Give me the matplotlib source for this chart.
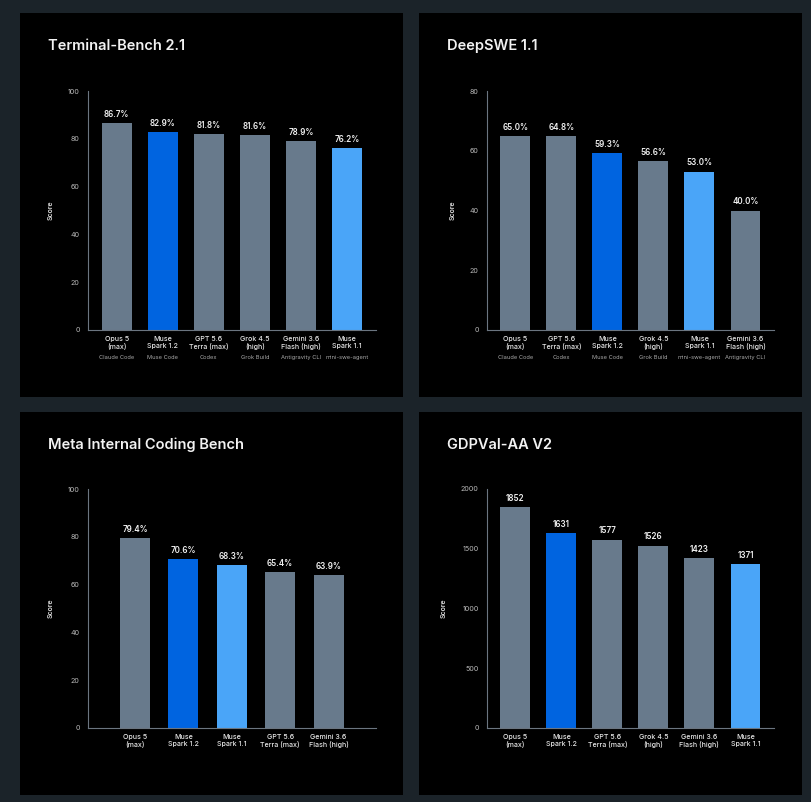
import matplotlib.pyplot as plt
from matplotlib.patches import Rectangle
from matplotlib.transforms import blended_transform_factory

plt.rcParams["font.family"] = ["Inter", "DejaVu Sans"]

GRAY = "#687a8c"
BLUE = "#0064e0"
LIGHT = "#4aa5f8"

# Terminal-Bench 2.1
tb_models = ["Opus 5\n(max)", "Muse\nSpark 1.2", "GPT 5.6\nTerra (max)",
             "Grok 4.5\n(high)", "Gemini 3.6\nFlash (high)", "Muse\nSpark 1.1"]
tb_harness = ["Claude Code", "Muse Code", "Codex", "Grok Build",
              "Antigravity CLI", "mini-swe-agent"]
tb_scores = [86.7, 82.9, 81.8, 81.6, 78.9, 76.2]
tb_colors = [GRAY, BLUE, GRAY, GRAY, GRAY, LIGHT]

# DeepSWE 1.1
ds_models = ["Opus 5\n(max)", "GPT 5.6\nTerra (max)", "Muse\nSpark 1.2",
             "Grok 4.5\n(high)", "Muse\nSpark 1.1", "Gemini 3.6\nFlash (high)"]
ds_harness = ["Claude Code", "Codex", "Muse Code", "Grok Build",
              "mini-swe-agent", "Antigravity CLI"]
ds_scores = [65.0, 64.8, 59.3, 56.6, 53.0, 40.0]
ds_colors = [GRAY, GRAY, BLUE, GRAY, LIGHT, GRAY]

# Meta Internal Coding Bench
mi_models = ["Opus 5\n(max)", "Muse\nSpark 1.2", "Muse\nSpark 1.1",
             "GPT 5.6\nTerra (max)", "Gemini 3.6\nFlash (high)"]
mi_scores = [79.4, 70.6, 68.3, 65.4, 63.9]
mi_colors = [GRAY, BLUE, LIGHT, GRAY, GRAY]

# GDPVal-AA V2
gd_models = ["Opus 5\n(max)", "Muse\nSpark 1.2", "GPT 5.6\nTerra (max)",
             "Grok 4.5\n(high)", "Gemini 3.6\nFlash (high)", "Muse\nSpark 1.1"]
gd_scores = [1852, 1631, 1577, 1526, 1423, 1371]
gd_colors = [GRAY, BLUE, GRAY, GRAY, GRAY, LIGHT]

W, H = 812, 802
fig = plt.figure(figsize=(W / 100, H / 100), dpi=100, facecolor="#1b2329")


def px_rect(x0, y0, x1, y1):
    # pixel box (top-left origin) -> figure fraction [l, b, w, h]
    return [x0 / W, 1 - y1 / H, (x1 - x0) / W, (y1 - y0) / H]


panels = [(20, 13, 403, 397), (419, 13, 802, 397),
          (20, 412, 403, 795), (419, 412, 802, 795)]
for p in panels:
    l, b, w, h = px_rect(*p)
    fig.patches.append(Rectangle((l, b), w, h, transform=fig.transFigure,
                                 facecolor="#000000", edgecolor="none", zorder=-5))


def draw(box, title, title_xy, models, scores, colors, ymax, yticks, xlim,
         fmt, harness=None):
    ax = fig.add_axes(px_rect(*box))
    ax.set_facecolor("none")
    x = list(range(len(models)))
    bars = ax.bar(x, scores, width=0.65 if len(models) == 6 else 0.62,
                  color=colors, zorder=2)
    ax.bar_label(bars, labels=[fmt.format(s) for s in scores], padding=3,
                 color="#f0f0f0", fontsize=5.8, fontweight="semibold")
    ax.set_ylim(0, ymax)
    ax.set_xlim(*xlim)
    ax.set_yticks(yticks)
    ax.set_xticks(x)
    ax.set_xticklabels(models, fontsize=5.1, color="#e6e6e6", linespacing=1.3,
                       fontweight="medium")
    ax.tick_params(axis="y", length=0, pad=6, labelsize=5.2, labelcolor="#b8b8b8")
    ax.tick_params(axis="x", length=0, pad=4)
    for s in ["top", "right"]:
        ax.spines[s].set_visible(False)
    for s in ["left", "bottom"]:
        ax.spines[s].set_color("#6b7580")
        ax.spines[s].set_linewidth(0.8)
    ax.set_ylabel("Score", fontsize=5.0, color="#e0e0e0", labelpad=10,
                  fontweight="semibold")
    if harness:
        tr = blended_transform_factory(ax.transData, ax.transAxes)
        for xi, hname in zip(x, harness):
            ax.annotate(hname, (xi, 0), xycoords=tr, xytext=(0, -20),
                        textcoords="offset points", ha="center", va="center",
                        fontsize=4.1, color="#a8a8a8")
    fig.text(title_xy[0] / W, 1 - title_xy[1] / H, title, fontsize=10.5,
             fontweight="semibold", color="#f2f2f2", ha="left", va="center")
    return ax


draw((88, 91, 376, 330), "Terminal-Bench 2.1", (48, 46), tb_models, tb_scores,
     tb_colors, 100, [0, 20, 40, 60, 80, 100], (-0.62, 5.63), "{:.1f}%", tb_harness)
draw((487, 91, 774, 330), "DeepSWE 1.1", (447, 46), ds_models, ds_scores,
     ds_colors, 80, [0, 20, 40, 60, 80], (-0.615, 5.62), "{:.1f}%", ds_harness)
draw((88, 489, 376, 728), "Meta Internal Coding Bench", (48, 445), mi_models,
     mi_scores, mi_colors, 100, [0, 20, 40, 60, 80, 100], (-0.97, 4.98), "{:.1f}%")
draw((487, 489, 774, 728), "GDPVal-AA V2", (447, 445), gd_models, gd_scores,
     gd_colors, 2000, [0, 500, 1000, 1500, 2000], (-0.615, 5.62), "{:d}")

fig.savefig("out.png", dpi=100, facecolor=fig.get_facecolor())
